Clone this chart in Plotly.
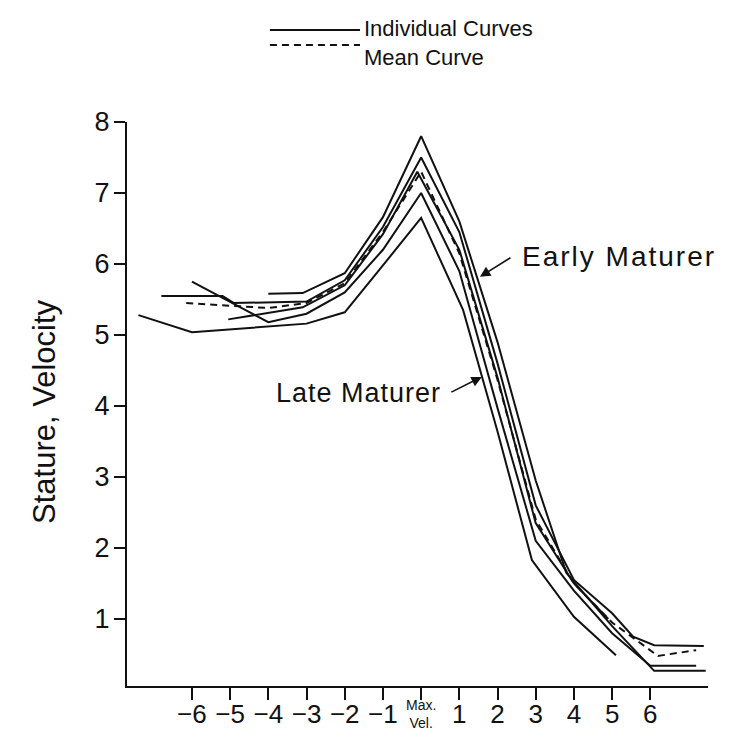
import plotly.graph_objects as go

# ---- data ----
# individual curves (aligned on peak height velocity)
a_x = [-4.0, -3.1, -2.0, -1.0, 0.0, 1.0, 2.0, 3.0, 3.8, 5.0, 6.1, 7.45]
a_y = [5.58, 5.59, 5.87, 6.66, 7.80, 6.60, 4.90, 2.95, 1.65, 0.90, 0.27, 0.27]

b_x = [-6.8, -5.2, -4.9, -3.0, -2.0, -1.0, 0.0, 1.0, 2.0, 3.0, 4.0, 5.0, 5.55, 6.1, 7.4]
b_y = [5.55, 5.55, 5.45, 5.47, 5.77, 6.52, 7.50, 6.45, 4.60, 2.60, 1.55, 1.08, 0.75, 0.63, 0.62]

e_x = [-5.05, -3.1, -2.0, -1.0, -0.1, 1.0, 2.0, 3.0, 4.0, 4.9]
e_y = [5.22, 5.39, 5.70, 6.42, 7.30, 6.20, 4.40, 2.35, 1.50, 1.00]

c_x = [-6.0, -4.0, -3.0, -2.0, -1.0, 0.0, 1.0, 2.0, 3.0, 4.0, 5.0, 6.0, 7.2]
c_y = [5.75, 5.18, 5.30, 5.60, 6.20, 7.00, 5.90, 3.97, 2.10, 1.40, 0.80, 0.34, 0.34]

d_x = [-7.4, -6.0, -3.0, -2.0, -1.0, 0.0, 1.1, 2.0, 2.9, 4.0, 5.1]
d_y = [5.28, 5.04, 5.16, 5.32, 5.98, 6.65, 5.35, 3.64, 1.83, 1.03, 0.49]

# mean curve
mean_x = [-6.15, -4.0, -3.0, -2.0, -1.0, 0.0, 1.0, 2.0, 3.0, 4.0, 5.0, 6.2, 7.2]
mean_y = [5.45, 5.38, 5.45, 5.73, 6.45, 7.30, 6.15, 4.37, 2.40, 1.50, 0.95, 0.48, 0.56]

x_tickvals = [-6, -5, -4, -3, -2, -1, 0, 1, 2, 3, 4, 5, 6]
x_ticktext = ["\u22126", "\u22125", "\u22124", "\u22123", "\u22122", "\u22121", "",
              "1", "2", "3", "4", "5", "6"]
y_tickvals = [1, 2, 3, 4, 5, 6, 7, 8]
y_ticktext = ["1", "2", "3", "4", "5", "6", "7", "8"]

FONT = "Liberation Sans, Arial, Helvetica, sans-serif"
INK = "#111111"

fig = go.Figure()
for xs, ys in [(a_x, a_y), (b_x, b_y), (e_x, e_y), (c_x, c_y), (d_x, d_y)]:
    fig.add_trace(go.Scatter(x=xs, y=ys, mode="lines",
                             line=dict(color=INK, width=2), showlegend=False,
                             hoverinfo="skip"))
fig.add_trace(go.Scatter(x=mean_x, y=mean_y, mode="lines",
                         line=dict(color=INK, width=2, dash="7px,5px"),
                         showlegend=False, hoverinfo="skip"))

fig.update_layout(
    width=723, height=736,
    margin=dict(l=119, r=23, t=114, b=58),
    paper_bgcolor="white", plot_bgcolor="white",
    font=dict(family=FONT, color=INK, size=24),
    xaxis=dict(range=[-7.70, 7.51], tickmode="array", tickvals=x_tickvals,
               ticktext=x_ticktext, showgrid=False, zeroline=False,
               showline=True, linecolor=INK, linewidth=2,
               ticks="outside", ticklen=12, tickwidth=2, tickcolor=INK,
               ticklabelstandoff=-8,
               tickfont=dict(size=26), fixedrange=True),
    yaxis=dict(range=[0.056, 8.0], tickmode="array", tickvals=y_tickvals,
               ticktext=y_ticktext, showgrid=False, zeroline=False,
               showline=True, linecolor=INK, linewidth=2,
               ticks="outside", ticklen=11, tickwidth=2, tickcolor=INK,
               ticklabelstandoff=-1,
               tickfont=dict(size=27), fixedrange=True),
)

# y-axis title
fig.add_annotation(text="Stature, Velocity", xref="paper", yref="paper",
                   x=-0.141, y=0.486, textangle=-90, showarrow=False,
                   font=dict(size=31), xanchor="center", yanchor="middle")

# "Max. Vel." label under the 0 tick
fig.add_annotation(text="Max.<br>Vel.", xref="x", yref="paper", x=0, y=0,
                   yshift=-9, showarrow=False, yanchor="top",
                   font=dict(size=14))

# curve labels with arrows
fig.add_annotation(text="<span style='letter-spacing:2px'>Early Maturer</span>",
                   x=2.59, y=6.11, xanchor="left",
                   yanchor="middle", showarrow=False, font=dict(size=28))
fig.add_annotation(text="", x=1.54, y=5.82, ax=32, ay=-20, showarrow=True,
                   arrowhead=2, arrowsize=1.3, arrowwidth=1.6, arrowcolor=INK,
                   standoff=0)
fig.add_annotation(text="<span style='letter-spacing:1px'>Late Maturer</span>",
                   x=0.57, y=4.18, xanchor="right",
                   yanchor="middle", showarrow=False, font=dict(size=27))
fig.add_annotation(text="", x=1.59, y=4.41, ax=-32, ay=16, showarrow=True,
                   arrowhead=2, arrowsize=1.3, arrowwidth=1.6, arrowcolor=INK,
                   standoff=0)

# custom legend at the top
fig.add_shape(type="line", xref="paper", yref="paper", x0=0.246, x1=0.401,
              y0=1.163, y1=1.163, line=dict(color=INK, width=2))
fig.add_shape(type="line", xref="paper", yref="paper", x0=0.246, x1=0.401,
              y0=1.1365, y1=1.1365, line=dict(color=INK, width=2, dash="7px,5px"))
fig.add_annotation(text="Individual Curves<br>Mean Curve", xref="paper", yref="paper",
                   x=0.404, y=1.1392, xanchor="left", yanchor="middle", align="left",
                   showarrow=False, font=dict(size=22))

fig.write_html("out.html")
